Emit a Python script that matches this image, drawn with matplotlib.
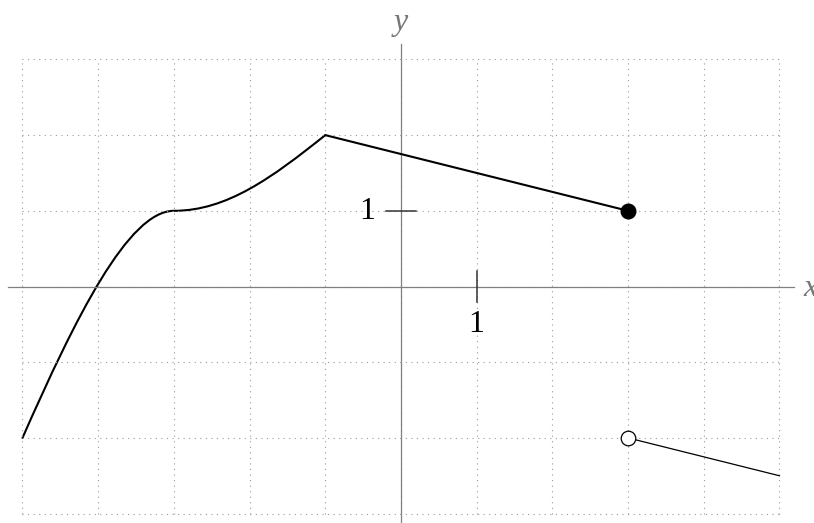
import matplotlib
matplotlib.use("Agg")
import matplotlib.pyplot as plt
from matplotlib.path import Path
from matplotlib.patches import PathPatch
import numpy as np

# smooth part of the graph, as cubic Bezier nodes: start, ctrl, ctrl, end, ctrl, ctrl, end
curve_x = [-5.0, -4.3, -3.6, -3.0, -2.3, -1.7, -1.0]
curve_y = [-2.0, -0.41, 1.0, 1.0, 1.0, 1.44, 2.0]

# straight piece ending in the filled dot
seg1_x = [-1.0, 3.0]
seg1_y = [2.0, 1.0]

# piece starting at the open circle
seg2_x = [3.0, 5.0]
seg2_y = [-2.0, -2.5]

grid_x = np.arange(-5, 6)
grid_y = np.arange(-3, 4)

serif = "Liberation Serif"

fig = plt.figure(figsize=(8.14, 5.23), dpi=100)
ax = fig.add_axes([0, 0, 1, 1])
ax.set_xlim(-5.297, 5.456)
ax.set_ylim(-3.124, 3.785)
ax.axis("off")

# dotted grid
ax.vlines(grid_x, -3, 3, colors="#9a9a9a", linewidth=0.8, linestyles=(0, (1, 4)))
ax.hlines(grid_y, -5, 5, colors="#9a9a9a", linewidth=0.8, linestyles=(0, (1, 4)))

# axes
ax.plot([-5.19, 5.19], [0, 0], color="#808080", lw=0.9)
ax.plot([0, 0], [-3.3, 3.2], color="#808080", lw=0.9)
ax.text(0, 3.49, "y", family=serif, style="italic", fontsize=23,
        color="#777777", ha="center", va="center")
ax.text(5.31, -0.03, "x", family=serif, style="italic", fontsize=23,
        color="#777777", ha="left", va="center")

# ticks
ax.plot([1, 1], [-0.2, 0.2], color="#333333", lw=1.1)
ax.plot([-0.2, 0.2], [1, 1], color="#333333", lw=1.1)
ax.text(1, -0.5, "1", family=serif, fontsize=23, ha="center", va="center")
ax.text(-0.45, 0.99, "1", family=serif, fontsize=23, ha="center", va="center")

# graph
codes = [Path.MOVETO] + [Path.CURVE4] * 6
path = Path(np.column_stack([curve_x, curve_y]), codes)
ax.add_patch(PathPatch(path, fill=False, lw=1.5, color="black", capstyle="round"))
ax.plot(seg1_x, seg1_y, color="black", lw=1.5, solid_capstyle="round")
ax.plot(seg2_x, seg2_y, color="black", lw=0.9)
ax.plot(seg1_x[-1], seg1_y[-1], "o", color="black", ms=10.5, zorder=5)
ax.plot(seg2_x[0], seg2_y[0], "o", mfc="white", mec="black", mew=0.9, ms=10.5, zorder=5)

fig.savefig("out.png", dpi=100)
